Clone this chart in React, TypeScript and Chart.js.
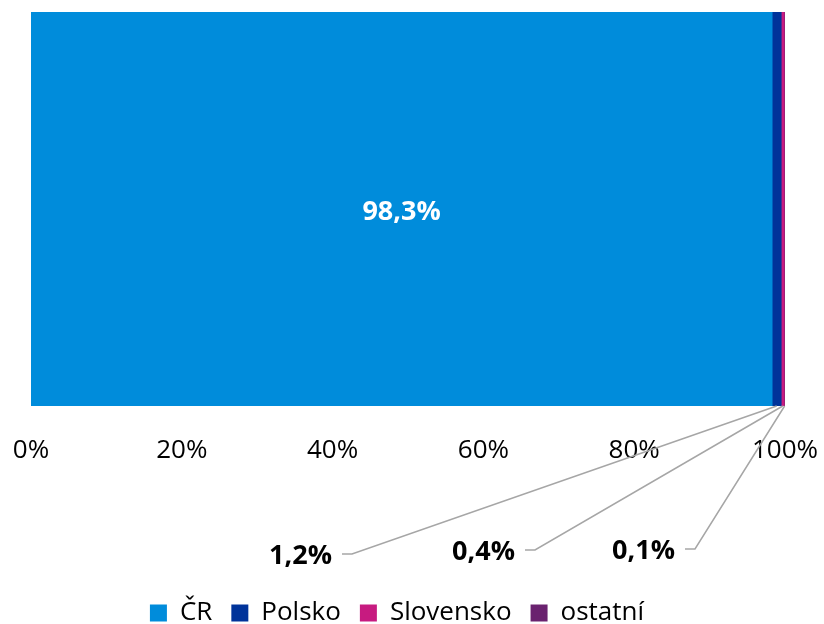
import React, { useEffect, useRef } from "react";
import { Chart, registerables } from "chart.js";

Chart.register(...registerables);

const categories = [""];
const seriesNames = ["ČR", "Polsko", "Slovensko", "ostatní"];
const seriesValues = [98.3, 1.2, 0.4, 0.1];
const seriesColors = ["#008CDB", "#00339A", "#C71B80", "#6A226F"];
const tickValues = [0, 20, 40, 60, 80, 100];

const FONT = "'Open Sans', 'Noto Sans', sans-serif";

const fmt = (v: number) => v.toFixed(1).replace(".", ",") + "%";

const labelPlugin = {
  id: "labelPlugin",
  afterLayout(chart: any, _args: any, opts: any) {
    if (chart.legend) {
      chart.legend.left += opts.legendShift;
      chart.legend.right += opts.legendShift;
    }
  },
  afterDatasetsDraw(chart: any, _args: any, opts: any) {
    const ctx = chart.ctx;
    const xs = chart.scales.x;
    const area = chart.chartArea;
    ctx.save();
    let cum = 0;
    chart.data.datasets.forEach((ds: any, i: number) => {
      const v = ds.data[0];
      const mid = cum + v / 2;
      cum += v;
      if (i === 0) {
        const meta = chart.getDatasetMeta(i);
        const bar = meta.data[0];
        ctx.fillStyle = "#ffffff";
        ctx.font = `bold 27px ${FONT}`;
        ctx.textAlign = "center";
        ctx.textBaseline = "middle";
        ctx.fillText(fmt(v), xs.getPixelForValue(mid), bar.y + 3);
        return;
      }
      const a = opts.anchors[i - 1];
      const px = xs.getPixelForValue(mid);
      const py = area.bottom;
      const lx = area.left + a.dx;
      const ly = area.bottom + a.dy;
      ctx.strokeStyle = "#A6A6A6";
      ctx.lineWidth = 1.5;
      ctx.beginPath();
      ctx.moveTo(px, py);
      ctx.lineTo(lx + 10, ly);
      ctx.lineTo(lx, ly);
      ctx.stroke();
      ctx.fillStyle = "#000000";
      ctx.font = `bold 27px ${FONT}`;
      ctx.textAlign = "right";
      ctx.textBaseline = "middle";
      ctx.fillText(fmt(v), lx - 10, ly + 2);
    });
    ctx.restore();
  },
};

export default function App() {
  const ref = useRef<HTMLCanvasElement>(null);
  useEffect(() => {
    document.body.style.margin = "0";
    const chart = new Chart(ref.current!, {
      type: "bar",
      data: {
        labels: categories,
        datasets: seriesNames.map((name, i) => ({
          label: name,
          data: [seriesValues[i]],
          backgroundColor: seriesColors[i],
          borderWidth: 0,
          barPercentage: 1,
          categoryPercentage: 1,
        })),
      },
      options: {
        indexAxis: "y",
        animation: false,
        responsive: false,
        layout: { padding: { top: 12, left: 31, right: 39, bottom: -12 } },
        scales: {
          x: {
            stacked: true,
            min: 0,
            max: 100,
            afterBuildTicks: (s: any) => {
              s.ticks = tickValues.map((v) => ({ value: v }));
            },
            afterFit: (s: any) => {
              s.height = 175;
              s.paddingLeft = 0;
              s.paddingRight = 0;
            },
            grid: { display: false, drawTicks: false },
            border: { display: false },
            ticks: {
              padding: 29,
              color: "#000000",
              font: { family: FONT, size: 26 },
              callback: (v: any) => v + "%",
              maxRotation: 0,
            },
          },
          y: {
            stacked: true,
            display: false,
          },
        },
        plugins: {
          legend: {
            position: "bottom",
            labels: {
              color: "#000000",
              font: { family: FONT, size: 26 },
              boxWidth: 17,
              boxHeight: 17,
              padding: 19,
            },
          },
          tooltip: { enabled: false },
          labelPlugin: {
            legendShift: -11,
            anchors: [
              { dx: 311, dy: 148 },
              { dx: 494, dy: 144 },
              { dx: 654, dy: 143 },
            ],
          },
        } as any,
      },
      plugins: [labelPlugin],
    });
    return () => chart.destroy();
  }, []);
  return (
    <div style={{ width: 824, height: 624 }}>
      <canvas ref={ref} width={824} height={624} />
    </div>
  );
}
